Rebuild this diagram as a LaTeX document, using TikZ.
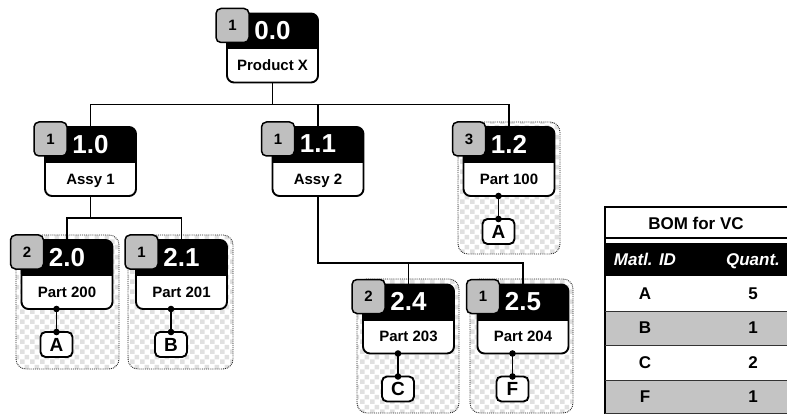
\documentclass[tikz,border=0pt]{standalone}
\usepackage{fontspec}
\setmainfont{Liberation Sans}
\usetikzlibrary{patterns.meta}
\definecolor{badgegray}{HTML}{BFBFBF}
\definecolor{rowgray}{HTML}{C4C4C4}
\tikzdeclarepattern{
  name=mychecker,
  type=uncolored,
  bounding box={(0pt,0pt) and (10pt,10pt)},
  tile size={(10pt,10pt)},
  code={\fill (0pt,0pt) rectangle (5pt,5pt); \fill (5pt,5pt) rectangle (10pt,10pt);}
}
\tikzset{
 pbox/.style={rectangle, minimum width=91pt, minimum height=69pt, inner sep=0pt, outer sep=0pt},
 boxline/.style={line width=1.9pt},
 hdrtxt/.style={text=white, font=\fontsize{26}{28}\selectfont\bfseries, inner sep=0pt, text depth=0pt},
 bodytxt/.style={font=\fontsize{15}{17}\selectfont\bfseries, inner sep=0pt, text depth=0pt},
 badge/.style={draw, line width=1.5pt, fill=badgegray, rounded corners=5pt, minimum width=33pt, minimum height=34pt, inner sep=0pt, text depth=0pt, font=\fontsize{15}{17}\selectfont\bfseries},
 leafbox/.style={draw, line width=1.9pt, fill=white, rounded corners=5pt, minimum width=32pt, minimum height=25pt, inner sep=0pt, outer sep=0pt, text depth=0pt, font=\fontsize{19}{21}\selectfont\bfseries},
 conn/.style={line width=1.5pt},
 container/.style={pattern=mychecker, pattern color=black!12, draw=black!85, densely dotted, line width=0.9pt, rounded corners=10pt},
 tbltxt/.style={font=\fontsize{17}{19}\selectfont\bfseries, inner sep=0pt, text depth=0pt},
 tblhdr/.style={font=\fontsize{17}{19}\selectfont\bfseries\itshape, text=white, inner sep=0pt, text depth=0pt},
}
\newcommand\partnode[6]{%
  \node[pbox] (#1) at (#2,#3+34.5) {};
  \fill[white, rounded corners=7pt] (#1.south west) rectangle (#1.north east);
  \begin{scope}
    \clip[rounded corners=7pt] (#1.south west) rectangle (#1.north east);
    \fill[black] (#1.north west) rectangle ([yshift=-36pt]#1.north east);
  \end{scope}
  \draw[boxline, rounded corners=7pt] (#1.south west) rectangle (#1.north east);
  \node[hdrtxt] (#1h) at ([yshift=-17pt]#1.north) {#4};
  \node[bodytxt] (#1b) at ([yshift=17pt]#1.south) {#6};
  \node[badge] (#1g) at ([xshift=5.5pt,yshift=-12pt]#1.north west) {#5};
}
\newcommand\leafnode[3]{%
  \node[leafbox] (#2) at ([xshift=-10.5pt,yshift=-35.5pt]#1.south) {#3};
  \coordinate (#2d) at (#2.north |- #1.south);
  \draw[conn] (#2d) -- (#2.north);
  \fill (#2d) circle (3.3pt);
  \fill (#2.north) circle (3.3pt);
}
\begin{document}
\begin{tikzpicture}[x=1pt,y=-1pt]
\useasboundingbox (0,0) rectangle (787,414);
% containers
\path[container] (16,235) rectangle (119,369);
\path[container] (128,235) rectangle (233,369);
\path[container] (458,122) rectangle (560,254);
\path[container] (357,279) rectangle (459,413);
\path[container] (470,279) rectangle (573,413);
% parts
\partnode{n00}{272.5}{13.5}{0.0}{1}{Product X}
\partnode{n10}{90.5}{127}{1.0}{1}{Assy 1}
\partnode{n11}{318}{127}{1.1}{1}{Assy 2}
\partnode{n12}{509}{127}{1.2}{3}{Part 100}
\partnode{n20}{67}{240}{2.0}{2}{Part 200}
\partnode{n21}{181.5}{240}{2.1}{1}{Part 201}
\partnode{n24}{408.5}{284.5}{2.4}{2}{Part 203}
\partnode{n25}{523}{284.5}{2.5}{1}{Part 204}
% leaves
\leafnode{n12}{l12}{A}
\leafnode{n20}{l20}{A}
\leafnode{n21}{l21}{B}
\leafnode{n24}{l24}{C}
\leafnode{n25}{l25}{F}
% tree connectors
\draw[conn] (n00.south) -- ++(0,22) coordinate (j0);
\draw[conn] (n10.north) |- (j0) -| (n12.north);
\draw[conn] (j0) -| (n11.north);
\draw[conn] (n10.south) -- ++(0,22) coordinate (j1);
\draw[conn] (n20.north) |- (j1) -| (n21.north);
\draw[conn] (n11.south) -- ++(0,67) coordinate (j2) -| (n25.north);
\draw[conn] (j2) -| (n24.north);
% table
\fill[black] (605,243) rectangle (787,276);
\fill[rowgray] (605,311) rectangle (787,345.5);
\fill[rowgray] (605,380) rectangle (787,414);
\draw[line width=1.2pt] (787,207) -- (605,207) -- (605,414);
\draw[line width=1.2pt] (605,238) -- (787,238);
\draw[line width=1pt, black!80] (605,311) -- (787,311);
\draw[line width=1pt, black!80] (605,345.5) -- (787,345.5);
\draw[line width=1pt, black!80] (605,380) -- (787,380);
\draw[line width=1pt, black!80] (605,413.5) -- (787,413.5);
\node[tbltxt] (tt) at (696,223) {BOM for VC};
\node[tblhdr] (th1) at (645,259.5) {Matl. ID};
\node[tblhdr] (th2) at (753,259.5) {Quant.};
\node[tbltxt] (ra1) at (645,293.5) {A};
\node[tbltxt] (ra2) at (753,293.5) {5};
\node[tbltxt] (rb1) at (645,328) {B};
\node[tbltxt] (rb2) at (753,328) {1};
\node[tbltxt] (rc1) at (645,362.5) {C};
\node[tbltxt] (rc2) at (753,362.5) {2};
\node[tbltxt] (rd1) at (645,397) {F};
\node[tbltxt] (rd2) at (753,397) {1};
\end{tikzpicture}
\end{document}
